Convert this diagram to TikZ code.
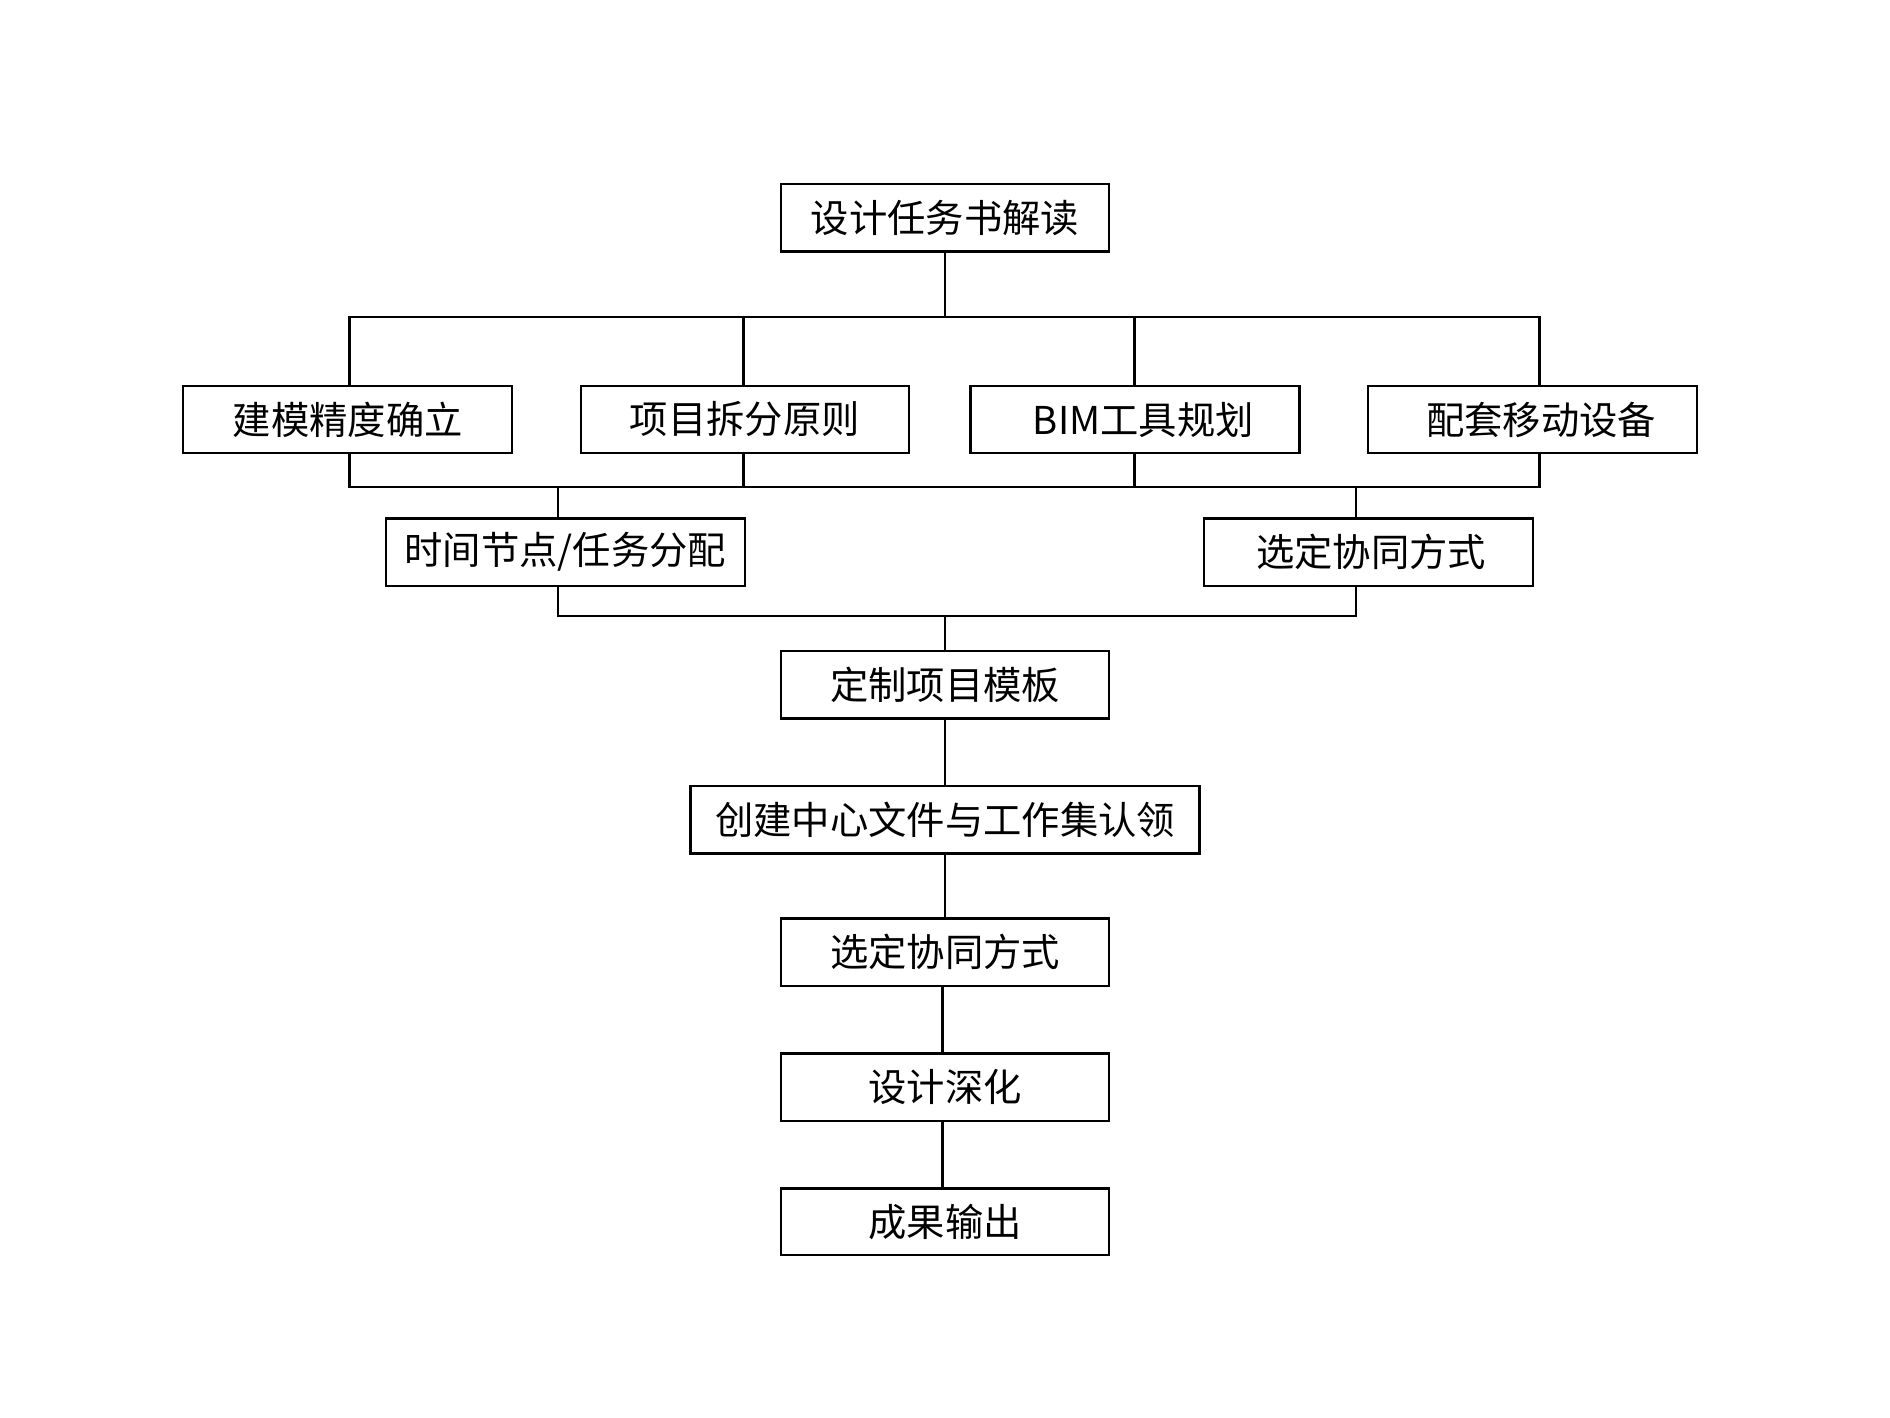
\documentclass[tikz,border=0pt]{standalone}
\usepackage{fontspec}
\setmainfont{Noto Sans CJK SC}
\begin{document}
\begin{tikzpicture}[x=1pt,y=-1pt,
  box/.style={draw=black,line width=2pt,fill=white,minimum width=272pt,minimum height=56pt,inner sep=0pt,
    font=\fontsize{31.8}{36}\selectfont},
  link/.style={draw=black,line width=2.2pt,line join=miter}]
\useasboundingbox[fill=white] (0,0) rectangle (1568,1176);
\coordinate (busU) at (0,263);
\coordinate (busL) at (0,404);
\coordinate (busM) at (0,511);
\node[box] (top) at (784,180.5) {设计任务书解读};
\node[box,minimum width=273pt] (b1) at (288.5,348) {建模精度确立};
\node[box] (b2) at (618,348) {项目拆分原则};
\node[box,minimum width=273pt] (b3) at (941.5,348) {\hspace*{14pt}BIM工具规划};
\node[box,minimum width=273pt] (b4) at (1271.5,348) {\hspace*{14pt}配套移动设备};
\node[box,minimum width=298pt] (t1) at (469,458) {时间节点/任务分配};
\node[box,minimum width=273pt] (s1) at (1135.5,458) {\hspace*{4pt}选定协同方式};
\node[box] (m1) at (784,568) {定制项目模板};
\node[box,minimum width=422pt] (m2) at (784,680) {创建中心文件与工作集认领};
\node[box] (m3) at (784,790) {选定协同方式};
\node[box] (m4) at (784,902) {设计深化};
\node[box,minimum height=55pt] (m5) at (784,1013.5) {成果输出};
\begin{scope}[on background layer/.style={}]
\end{scope}
% top to first bus
\path[link] (top.south) -- (top.south |- busU);
\path[link] ([xshift=1.5pt]b1.north) -- ([xshift=1.5pt]b1.north |- busU) -- ([xshift=5.5pt]b4.north |- busU) -- ([xshift=5.5pt]b4.north);
\path[link] ([xshift=-1pt]b2.north |- busU) -- ([xshift=-1pt]b2.north);
\path[link] ([xshift=-0.5pt]b3.north |- busU) -- ([xshift=-0.5pt]b3.north);
% second bus
\path[link] ([xshift=1.5pt]b1.south) -- ([xshift=1.5pt]b1.south |- busL) -- ([xshift=5.5pt]b4.south |- busL) -- ([xshift=5.5pt]b4.south);
\path[link] ([xshift=-1pt]b2.south) -- ([xshift=-1pt]b2.south |- busL);
\path[link] ([xshift=-0.5pt]b3.south) -- ([xshift=-0.5pt]b3.south |- busL);
\path[link] ([xshift=-6pt]t1.north |- busL) -- ([xshift=-6pt]t1.north);
\path[link] ([xshift=-10.5pt]s1.north |- busL) -- ([xshift=-10.5pt]s1.north);
% third bus
\path[link] ([xshift=-6pt]t1.south) -- ([xshift=-6pt]t1.south |- busM) -- ([xshift=-10.5pt]s1.south |- busM) -- ([xshift=-10.5pt]s1.south);
\path[link] (m1.north |- busM) -- (m1.north);
% chain
\path[link] (m1.south) -- (m2.north);
\path[link] (m2.south) -- (m3.north);
\path[link] ([xshift=-2pt]m3.south) -- ([xshift=-2pt]m4.north);
\path[link] ([xshift=-2pt]m4.south) -- ([xshift=-2pt]m5.north);
\end{tikzpicture}
\end{document}
